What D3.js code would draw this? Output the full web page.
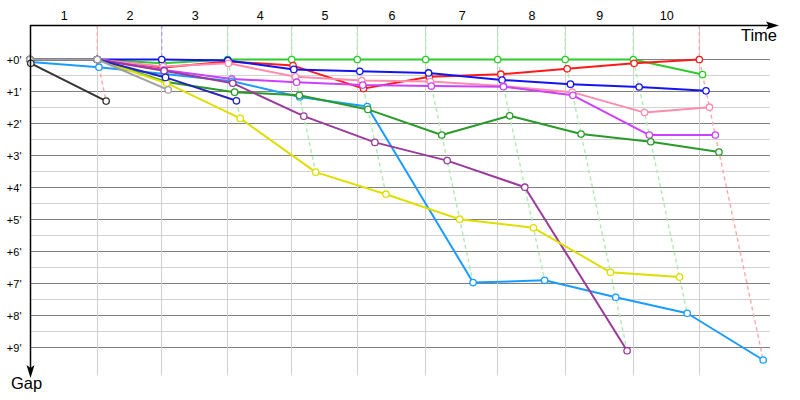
<!DOCTYPE html>
<html><head><meta charset="utf-8">
<script src="https://cdn.jsdelivr.net/npm/d3@7"></script>
<style>html,body{margin:0;padding:0;background:#fff}svg{display:block}</style>
</head><body>
<svg id="c" width="800" height="400"></svg>
<script>
// ---- data ----
const lapLabels = ["1","2","3","4","5","6","7","8","9","10"];
// leader's race time (minutes) at end of each lap, lap 0 = start
const leaderTimes = [0, 9.9, 19.37, 29.07, 38.49, 48.13, 58.19, 68.78, 78.71, 88.72, 98.43];
const lapLeaders = ["red","blue","green","green","green","green","green","green","green","red"];
const gapTicks = [0,1,2,3,4,5,6,7,8,9];
const riders = ["green","red","blue","pink","magenta","lightblue","darkgreen","purple","yellow","navy","gray","black"];
const riderColors = ["#2ccc2c","#ff1a1a","#1414f0","#ff8cae","#cc40ff","#1a9cff","#2a9a2a","#9b3a9b","#dede00","#2424b8","#a0a0a0","#333333"];
// gap to leader (minutes) at lap 0..n
const gapGreen     = [0, 0, 0.12, 0, 0, 0, 0, 0, 0, 0, 0.47];
const gapRed       = [0, 0, 0.25, 0.06, 0.19, 0.91, 0.54, 0.46, 0.29, 0.12, 0];
const gapBlue      = [0, 0, 0, 0.03, 0.31, 0.37, 0.42, 0.64, 0.77, 0.86, 0.98];
const gapPink      = [0, 0, 0.22, 0.12, 0.54, 0.66, 0.69, 0.83, 1.02, 1.66, 1.49];
const gapMagenta   = [0, 0, 0.33, 0.61, 0.71, 0.80, 0.83, 0.85, 1.12, 2.36, 2.36];
const gapLightBlue = [0.08, 0.24, 0.45, 0.68, 1.17, 1.47, 6.97, 6.90, 7.43, 7.93, 9.39];
const gapDarkGreen = [0, 0, 0.70, 1.02, 1.12, 1.56, 2.36, 1.76, 2.33, 2.57, 2.89];
const gapPurple    = [0, 0, 0.35, 0.74, 1.77, 2.59, 3.16, 3.99, 9.10];
const gapYellow    = [0, 0, 0.74, 1.84, 3.52, 4.21, 4.99, 5.26, 6.65, 6.80];
const gapNavy      = [0, 0, 0.56, 1.29];
const gapGray      = [0, 0, 0.95];
const gapBlack     = [0.12, 1.30];
const gaps = [gapGreen,gapRed,gapBlue,gapPink,gapMagenta,gapLightBlue,gapDarkGreen,gapPurple,gapYellow,gapNavy,gapGray,gapBlack];

// ---- chart ----
const svg = d3.select("#c");
const x = d3.scaleLinear().domain([0,110]).range([30,778]);
const y = d3.scaleLinear().domain([0,9]).range([59.5,347.5]);
const color = d3.scaleOrdinal().domain(riders).range(riderColors);
const crisp = v => Math.round(v - 0.5) + 0.5;
const font = "'Liberation Sans', Arial, sans-serif";

// horizontal grid
const gy = d3.range(0, 9.01, 0.5);
svg.append("g").selectAll("line").data(gy).join("line")
  .attr("x1", 30).attr("x2", 770)
  .attr("y1", d => crisp(y(d))).attr("y2", d => crisp(y(d)))
  .attr("stroke", d => Number.isInteger(d) ? "#7f7f7f" : "#d2d2d2")
  .attr("stroke-width", 1);

// vertical grid at leader lap times
svg.append("g").selectAll("line").data(leaderTimes.slice(1)).join("line")
  .attr("x1", d => crisp(x(d))).attr("x2", d => crisp(x(d)))
  .attr("y1", 25).attr("y2", 375)
  .attr("stroke", "#d0d0d0").attr("stroke-width", 1);

// dashed lap lines
const lapData = lapLabels.map((l, i) => {
  const lap = i + 1;
  const maxGap = d3.max(gaps.filter(g => g.length > lap), g => g[lap]);
  return {lap, maxGap, col: d3.interpolateRgb(color(lapLeaders[i]), "#ffffff")(0.62)};
});
svg.append("g").selectAll("path").data(lapData).join("path")
  .attr("d", d => {
    const t = leaderTimes[d.lap];
    return d3.line()([[x(t), 25], [x(t), y(0)], [x(t + d.maxGap), y(d.maxGap)]]);
  })
  .attr("fill", "none").attr("stroke", d => d.col)
  .attr("stroke-width", 1.4).attr("stroke-dasharray", "4,3");

// series
const series = riders.map((r, i) => ({
  name: r,
  pts: gaps[i].map((g, lap) => ({lap, gap: g}))
}));
const line = d3.line()
  .x(d => x(leaderTimes[d.lap] + d.gap))
  .y(d => y(d.gap));
const sg = svg.append("g").selectAll("g").data(series).join("g");
sg.append("path")
  .attr("d", d => line(d.pts))
  .attr("fill", "none").attr("stroke", d => color(d.name))
  .attr("stroke-width", 2).attr("stroke-linejoin", "round");
sg.selectAll("circle").data(d => d.pts.map(p => ({...p, name: d.name}))).join("circle")
  .attr("cx", d => x(leaderTimes[d.lap] + d.gap))
  .attr("cy", d => y(d.gap))
  .attr("r", 3.2)
  .attr("fill", "#fff").attr("stroke", d => color(d.name)).attr("stroke-width", 1.3);

// axes
const axTop = svg.append("g").attr("transform", "translate(0,25.5)")
  .call(d3.axisTop(x)
    .tickValues(lapLabels.map((l, i) => (leaderTimes[i] + leaderTimes[i + 1]) / 2))
    .tickFormat((d, i) => lapLabels[i]).tickSize(0).tickPadding(6));
axTop.select(".domain").remove();
axTop.selectAll("text").attr("font-family", font).attr("font-size", 12.5).attr("fill", "#000");

const axLeft = svg.append("g").attr("transform", "translate(30.5,0)")
  .call(d3.axisLeft(y).tickValues(gapTicks).tickFormat(d => "+" + d + "'").tickSize(0).tickPadding(9));
axLeft.select(".domain").remove();
axLeft.selectAll("text").attr("font-family", font).attr("font-size", 11).attr("fill", "#000");

// axis lines with arrows
svg.append("line").attr("x1", 30).attr("x2", 770).attr("y1", 25.5).attr("y2", 25.5)
  .attr("stroke", "#000").attr("stroke-width", 1.5);
svg.append("path").attr("d", "M766,21.5L779,25.5L766,29.5L768.5,25.5Z").attr("fill", "#000");
svg.append("line").attr("x1", 30.5).attr("x2", 30.5).attr("y1", 25).attr("y2", 370)
  .attr("stroke", "#000").attr("stroke-width", 1.5);
svg.append("path").attr("d", "M26.5,365L30.5,378L34.5,365L30.5,368Z").attr("fill", "#000");

svg.append("text").attr("x", 777).attr("y", 41).attr("text-anchor", "end")
  .attr("font-family", font).attr("font-size", 16.5).text("Time");
svg.append("text").attr("x", 11).attr("y", 389)
  .attr("font-family", font).attr("font-size", 16.5).text("Gap");
</script>
</body></html>
